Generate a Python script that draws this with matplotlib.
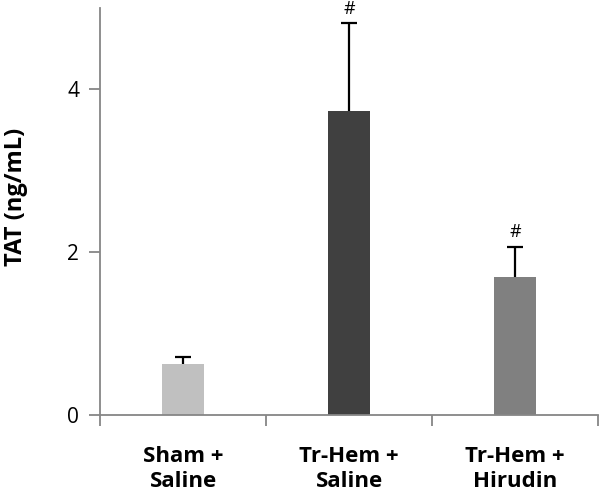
import matplotlib.pyplot as plt
from matplotlib.ticker import FixedLocator

groups = ["Sham +\nSaline", "Tr-Hem +\nSaline", "Tr-Hem +\nHirudin"]
tat_mean = [0.63, 3.73, 1.70]
tat_err = [0.08, 1.08, 0.37]
marks = ["", "#", "#"]
colors = ["#c0c0c0", "#404040", "#808080"]

plt.rcParams["font.family"] = ["Open Sans", "DejaVu Sans"]

fig = plt.figure(figsize=(6, 4.93), dpi=100)
ax = fig.add_axes([0.167, 0.158, 0.83, 0.826])

x = range(len(groups))
ax.bar(x, tat_mean, width=0.25, color=colors, zorder=2)
eb = ax.errorbar(x, tat_mean, yerr=[[0] * len(tat_err), tat_err], fmt="none",
                 ecolor="black", elinewidth=1.6, capsize=6, capthick=1.6, zorder=3)
eb[1][0].set_visible(False)  # no cap at bar top
for i, (m, e, s) in enumerate(zip(tat_mean, tat_err, marks)):
    if s:
        ax.text(i, m + e + 0.07, s, ha="center", va="bottom", fontsize=13)

ax.set_xlim(-0.5, 2.5)
ax.set_ylim(0, 5)
ax.set_yticks([0, 2, 4])
ax.set_xticks(list(x))
ax.set_xticklabels(groups, fontsize=16, fontweight="bold", linespacing=1.3)
ax.tick_params(axis="x", length=0, pad=22)
ax.xaxis.set_minor_locator(FixedLocator([-0.5, 0.5, 1.5, 2.5]))
ax.tick_params(axis="x", which="minor", length=8, width=1.3, color="#868686")
ax.tick_params(axis="y", length=8, width=1.3, color="#868686", labelsize=15, pad=7)
ax.set_ylabel("TAT (ng/mL)", fontsize=17, fontweight="bold")
ax.yaxis.set_label_coords(-0.145, 0.535)

for side in ["top", "right"]:
    ax.spines[side].set_visible(False)
for side in ["left", "bottom"]:
    ax.spines[side].set_color("#868686")
    ax.spines[side].set_linewidth(1.3)

fig.savefig("out.png", dpi=100)
